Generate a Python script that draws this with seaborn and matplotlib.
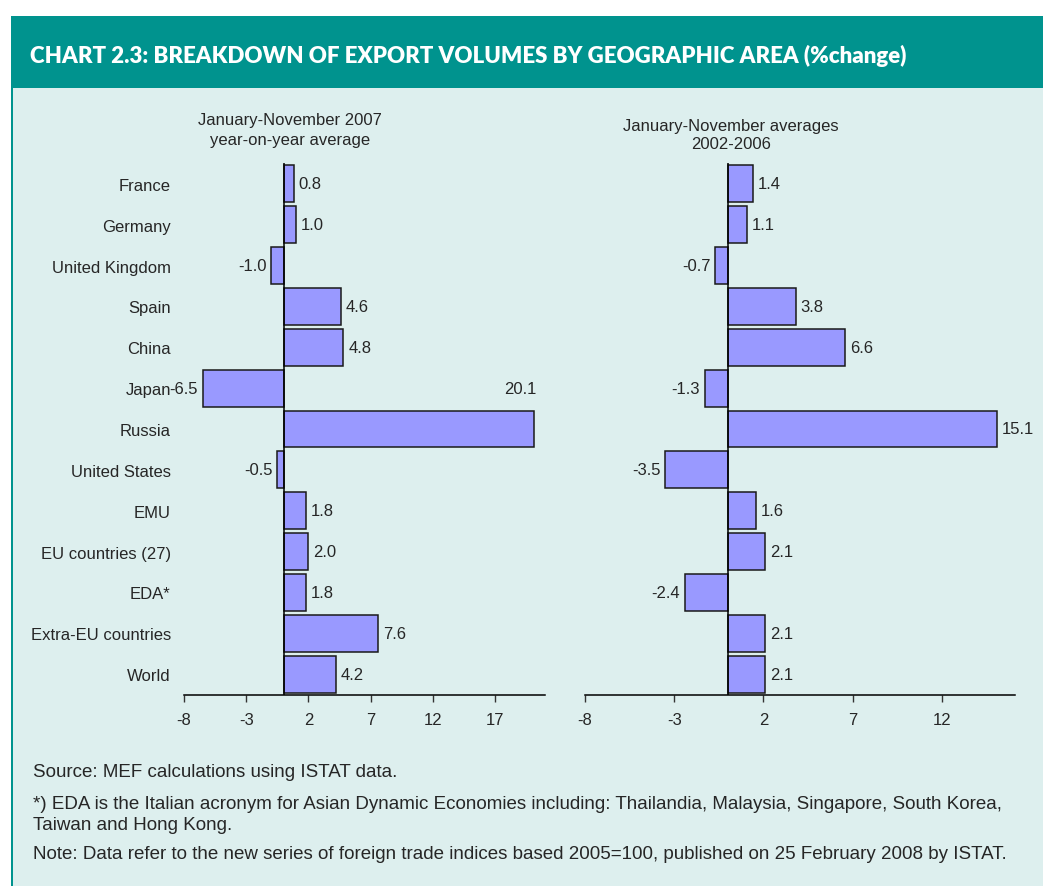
import matplotlib
matplotlib.use("Agg")
import matplotlib.pyplot as plt
from matplotlib.patches import Rectangle
import seaborn as sns
import pandas as pd

# Export volume changes by geographic area (% change)
areas = ["France", "Germany", "United Kingdom", "Spain", "China", "Japan",
         "Russia", "United States", "EMU", "EU countries (27)", "EDA*",
         "Extra-EU countries", "World"]
jan_nov_2007 = [0.8, 1.0, -1.0, 4.6, 4.8, -6.5, 20.1, -0.5, 1.8, 2.0, 1.8, 7.6, 4.2]
avg_2002_2006 = [1.4, 1.1, -0.7, 3.8, 6.6, -1.3, 15.1, -3.5, 1.6, 2.1, -2.4, 2.1, 2.1]

left_ticks = [-8, -3, 2, 7, 12, 17]
right_ticks = [-8, -3, 2, 7, 12]

TEAL = "#00938E"
PANEL = "#DDEFEE"
BAR = "#9999FF"
FS = 12

sns.set_theme(style="white")
plt.rcParams["font.family"] = ["Liberation Sans", "DejaVu Sans"]
plt.rcParams["axes.unicode_minus"] = False

W, H = 1043, 887
fig = plt.figure(figsize=(W / 100, H / 100), dpi=100, facecolor="white")


def fx(px):
    return px / W


def fy(py):
    return 1 - py / H


# background panel, header band and left border
fig.patches.append(Rectangle((fx(11), 0), 1 - fx(11), fy(89), transform=fig.transFigure,
                             facecolor=PANEL, edgecolor="none", zorder=-3))
fig.patches.append(Rectangle((fx(11), fy(89)), 1 - fx(11), fy(17) - fy(89),
                             transform=fig.transFigure, facecolor=TEAL,
                             edgecolor="none", zorder=-3))
fig.patches.append(Rectangle((fx(11), 0), fx(2), fy(17), transform=fig.transFigure,
                             facecolor=TEAL, edgecolor="none", zorder=-2))

fig.text(fx(30), fy(56), "CHART 2.3: BREAKDOWN OF EXPORT VOLUMES BY GEOGRAPHIC AREA (%change)",
         color="white", fontsize=16, fontweight="heavy", family=["Lato", "DejaVu Sans"],
         va="center", ha="left")

ax_top, ax_bot = 164, 696
axL = fig.add_axes([fx(184), fy(ax_bot), fx(545) - fx(184), (ax_bot - ax_top) / H])
axR = fig.add_axes([fx(585), fy(ax_bot), fx(1015) - fx(585), (ax_bot - ax_top) / H])

panels = [
    (axL, jan_nov_2007, (-8, 21), left_ticks, True),
    (axR, avg_2002_2006, (-8, 16.1), right_ticks, False),
]

for ax, vals, xlim, ticks, show_names in panels:
    df = pd.DataFrame({"area": areas, "value": vals})
    ax.set_zorder(2)
    ax.patch.set_visible(False)
    sns.barplot(data=df, x="value", y="area", orient="h", color=BAR, saturation=1,
                edgecolor="#1a1a1a", linewidth=1.1, width=0.9, ax=ax)
    ax.set_xlim(*xlim)
    ax.set_ylim(len(areas) - 0.49, -0.51)
    ax.axvline(0, color="black", lw=1.1, zorder=5)
    for side in ("top", "right", "left"):
        ax.spines[side].set_visible(False)
    ax.spines["bottom"].set_color("black")
    ax.spines["bottom"].set_linewidth(1.1)
    ax.set_xticks(ticks)
    ax.set_xticklabels([str(t) for t in ticks])
    ax.tick_params(axis="x", direction="out", length=5, width=1, color="#333333",
                   labelsize=FS, pad=7, bottom=True)
    ax.set_xlabel("")
    ax.set_ylabel("")
    if show_names:
        ax.tick_params(axis="y", length=0, labelsize=FS, pad=9.5)
    else:
        ax.set_yticks([])
        ax.set_xticks([0], minor=True)
        ax.tick_params(axis="x", which="minor", direction="out", length=8, width=1,
                       color="#333333")

    # value labels at the bar ends
    for i, v in enumerate(vals):
        txt = f"{v:.1f}"
        if ax is axL and v == max(vals):
            ax.annotate(txt, xy=(v, i), xytext=(2, 29.5), textcoords="offset points",
                        ha="right", va="center", fontsize=FS, annotation_clip=False)
        elif v >= 0:
            ax.annotate(txt, xy=(v, i), xytext=(3.5, 0), textcoords="offset points",
                        ha="left", va="center", fontsize=FS, annotation_clip=False)
        else:
            ax.annotate(txt, xy=(v, i), xytext=(-3.5, 0), textcoords="offset points",
                        ha="right", va="center", fontsize=FS, annotation_clip=False)

fig.text(fx(290), fy(130.5), "January-November 2007\nyear-on-year average", ha="center",
         va="center", fontsize=FS, linespacing=1.35)
fig.text(fx(731), fy(135.5), "January-November averages\n2002-2006", ha="center",
         va="center", fontsize=FS, linespacing=1.25)

notes = [
    (773, "Source: MEF calculations using ISTAT data."),
    (815, "*) EDA is the Italian acronym for Asian Dynamic Economies including: Thailandia, "
          "Malaysia, Singapore, South Korea,\nTaiwan and Hong Kong."),
    (855, "Note: Data refer to the new series of foreign trade indices based 2005=100, "
          "published on 25 February 2008 by ISTAT."),
]
for y, t in notes:
    fig.text(fx(33), fy(y), t, ha="left", va="center", fontsize=13.5, linespacing=1.25)

fig.savefig("out.png", dpi=100, facecolor="white")
